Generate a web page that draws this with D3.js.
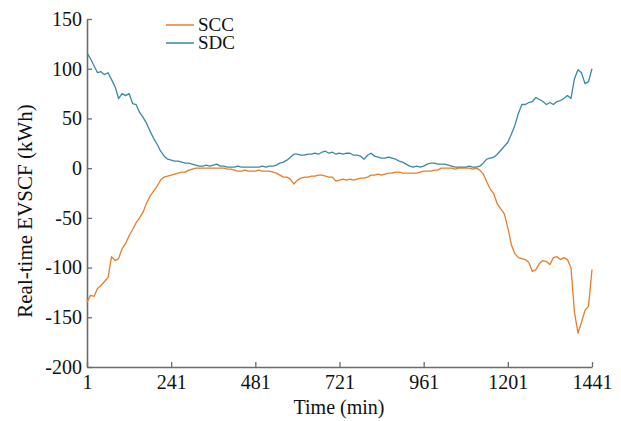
<!DOCTYPE html>
<html lang="en">
    <head>
        <meta charset="utf-8">
        <title>Real-time EVSCF</title>
        <script type="text/javascript" src="https://cdn.jsdelivr.net/npm/d3@7"></script>
        <style>
            body { margin: 0; background: #fff; }
            text { font-family: "Liberation Serif", "Times New Roman", serif; }
        </style>
    </head>
    <body>
        <script type="text/javascript">
            // sample times (min), every 10 min
            var times = [
                1, 11, 21, 31, 41, 51, 61, 71, 81, 91,
                101, 111, 121, 131, 141, 151, 161, 171, 181, 191,
                201, 211, 221, 231, 241, 251, 261, 271, 281, 291,
                301, 311, 321, 331, 341, 351, 361, 371, 381, 391,
                401, 411, 421, 431, 441, 451, 461, 471, 481, 491,
                501, 511, 521, 531, 541, 551, 561, 571, 581, 591,
                601, 611, 621, 631, 641, 651, 661, 671, 681, 691,
                701, 711, 721, 731, 741, 751, 761, 771, 781, 791,
                801, 811, 821, 831, 841, 851, 861, 871, 881, 891,
                901, 911, 921, 931, 941, 951, 961, 971, 981, 991,
                1001, 1011, 1021, 1031, 1041, 1051, 1061, 1071, 1081, 1091,
                1101, 1111, 1121, 1131, 1141, 1151, 1161, 1171, 1181, 1191,
                1201, 1211, 1221, 1231, 1241, 1251, 1261, 1271, 1281, 1291,
                1301, 1311, 1321, 1331, 1341, 1351, 1361, 1371, 1381, 1391,
                1401, 1411, 1421, 1431, 1441
            ];

            var scc = [
                -135, -128, -129, -121, -118, -114, -110, -89, -93, -91,
                -81, -76, -68, -62, -55, -50, -44, -35, -28, -23,
                -18, -12, -9, -8, -7, -6, -5, -4, -4, -2,
                -1, 0, 0, 0, 0, 0, 0, 0, 0, 0,
                -1, -1, -2, -3, -3, -2, -3, -3, -3, -2,
                -3, -3, -3, -4, -5, -7, -9, -9, -11, -16,
                -12, -10, -9, -9, -8, -8, -7, -7, -8, -9,
                -9, -13, -12, -11, -12, -11, -12, -11, -10, -10,
                -9, -7, -7, -6, -7, -6, -5, -5, -4, -4,
                -5, -5, -5, -5, -5, -4, -3, -3, -3, -2,
                -2, 0, 0, 0, 0, -1, 0, 0, 0, 0,
                -1, 0, -2, -6, -14, -21, -26, -36, -41, -46,
                -60, -77, -86, -90, -91, -92, -95, -104, -102, -96,
                -93, -94, -97, -90, -89, -92, -90, -92, -100, -145,
                -166, -155, -143, -139, -102
            ];

            var sdc = [
                116, 110, 103, 96, 97, 94, 96, 89, 82, 70,
                75, 73, 75, 65, 64, 56, 51, 45, 37, 30,
                24, 17, 12, 9, 8, 7, 7, 6, 5, 5,
                4, 3, 2, 2, 3, 2, 3, 4, 2, 2,
                1, 1, 1, 2, 1, 1, 1, 1, 1, 1,
                2, 1, 2, 2, 3, 5, 6, 8, 11, 14,
                14, 13, 13, 14, 14, 15, 14, 16, 17, 15,
                16, 14, 15, 14, 15, 15, 13, 13, 12, 9,
                13, 15, 12, 11, 10, 10, 11, 10, 9, 7,
                6, 4, 2, 1, 2, 1, 2, 4, 5, 5,
                4, 4, 4, 3, 2, 1, 1, 1, 1, 2,
                1, 1, 2, 5, 9, 10, 11, 14, 18, 22,
                26, 34, 43, 55, 64, 64, 66, 67, 71, 69,
                67, 64, 66, 64, 67, 68, 70, 73, 70, 90,
                99, 96, 85, 87, 100
            ];

            var xTicks = [1, 241, 481, 721, 961, 1201, 1441];
            var yTicks = [-200, -150, -100, -50, 0, 50, 100, 150];
            var seriesNames = ["SCC", "SDC"];
            var colors = ["#e57e2a", "#3a89a1"];

            //canvas
            var w = 621;
            var h = 421;
            var margin = {top: 19, right: 29, bottom: 54, left: 87};

            var svg = d3.select("body")
                        .append("svg")
                        .attr("width", w)
                        .attr("height", h);

            var xScale = d3.scaleLinear()
                            .domain([1, 1441])
                            .range([margin.left, w - margin.right]);

            var yScale = d3.scaleLinear()
                            .domain([-200, 150])
                            .range([h - margin.bottom, margin.top]);

            // axes, ticks point inward, plain hyphen for negatives
            var xAxis = d3.axisBottom(xScale)
                            .tickValues(xTicks)
                            .tickSizeInner(-5)
                            .tickSizeOuter(0)
                            .tickPadding(8)
                            .tickFormat(function(d) { return String(d); });

            var yAxis = d3.axisLeft(yScale)
                            .tickValues(yTicks)
                            .tickSizeInner(-5)
                            .tickSizeOuter(0)
                            .tickPadding(5)
                            .tickFormat(function(d) { return String(d); });

            var gx = svg.append("g")
                .attr("transform", "translate(0," + (h - margin.bottom) + ")")
                .call(xAxis);

            var gy = svg.append("g")
                .attr("transform", "translate(" + margin.left + ",0)")
                .call(yAxis);

            [gx, gy].forEach(function(g) {
                g.select(".domain").attr("stroke", "#6b6b6b").attr("stroke-width", 1.6);
                g.selectAll(".tick line").attr("stroke", "#6b6b6b").attr("stroke-width", 1.3);
                g.selectAll(".tick text")
                    .attr("font-size", "20px")
                    .attr("font-family", "Liberation Serif")
                    .attr("fill", "#111");
            });

            // lines
            var series = [scc, sdc];
            var line = d3.line()
                .x(function(d, i) { return xScale(times[i]); })
                .y(function(d) { return yScale(d); });

            series.forEach(function(s, k) {
                svg.append("path")
                    .datum(s)
                    .attr("fill", "none")
                    .attr("stroke", colors[k])
                    .attr("stroke-width", 1.3)
                    .attr("stroke-linejoin", "round")
                    .attr("d", line);
            });

            // legend
            var legend = svg.append("g");
            seriesNames.forEach(function(name, k) {
                var ly = 25 + k * 18;
                legend.append("line")
                    .attr("x1", 166).attr("x2", 194)
                    .attr("y1", ly).attr("y2", ly)
                    .attr("stroke", colors[k])
                    .attr("stroke-width", 1.5);
                legend.append("text")
                    .attr("x", 198)
                    .attr("y", ly + 6)
                    .attr("font-size", "19px")
                    .attr("fill", "#111")
                    .text(name);
            });

            // axis titles
            svg.append("text")
                .attr("x", 339)
                .attr("y", 414)
                .attr("text-anchor", "middle")
                .attr("font-size", "20px")
                .attr("fill", "#111")
                .text("Time (min)");

            svg.append("text")
                .attr("transform", "translate(32," + 211 + ") rotate(-90)")
                .attr("text-anchor", "middle")
                .attr("font-size", "21px")
                .attr("fill", "#111")
                .text("Real-time EVSCF (kWh)");
        </script>
    </body>
</html>
